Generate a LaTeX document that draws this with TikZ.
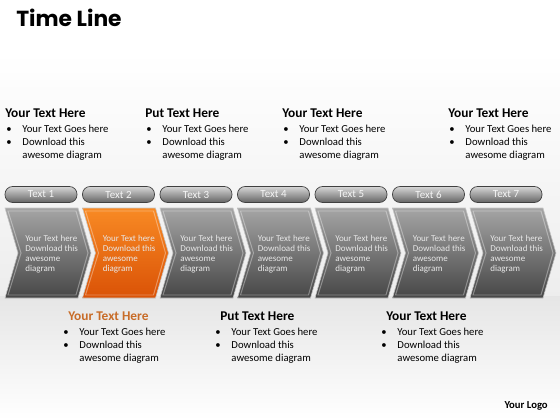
\documentclass[tikz,border=0pt]{standalone}
\usepackage{fontspec}
\setmainfont{Carlito}
\newfontfamily\titlefont{Poppins}
\usetikzlibrary{positioning}

\definecolor{chevtop}{RGB}{165,165,165}
\definecolor{chevbot}{RGB}{70,70,70}
\definecolor{orgtop}{RGB}{248,138,36}
\definecolor{orgbot}{RGB}{218,82,6}
\definecolor{orghead}{RGB}{200,108,40}
\definecolor{tabtop}{RGB}{215,215,215}
\definecolor{tabbot}{RGB}{100,100,100}

\tikzset{
  head/.style={anchor=west, inner sep=0pt, font=\bfseries\fontsize{9.5}{11}\selectfont},
  blist/.style={anchor=north west, inner sep=0pt, font=\fontsize{7.6}{9.25}\selectfont},
  chevtext/.style={anchor=north west, inner sep=0pt, align=left, text=white!82!gray, font=\fontsize{6.4}{7.3}\selectfont},
  tab/.style={draw=gray!50!black, line width=0.5pt, rounded corners=0.19cm, top color=tabtop, bottom color=tabbot,
    minimum width=1.8cm, minimum height=0.4cm, inner sep=0pt, text=white!92!gray, font=\fontsize{7.8}{9}\selectfont},
}

\begin{document}
\begin{tikzpicture}[x=0.025cm, y=-0.025cm]
	\useasboundingbox (0,0) rectangle (560,420);
	% background
	\fill[white] (0,0) rectangle (560,420);
	\shade[top color=white, bottom color=gray!14] (0,52) rectangle (560,296);
	\shade[top color=gray!20, bottom color=white] (0,296) rectangle (560,420);

	\node[anchor=west, inner sep=0pt, font=\titlefont\bfseries\fontsize{15.5}{18}\selectfont] (title) at (16,18) {Time Line};

	% chevrons
	\foreach \i/\ct/\cb in {1/chevtop/chevbot, 2/orgtop/orgbot, 3/chevtop/chevbot, 4/chevtop/chevbot, 5/chevtop/chevbot, 6/chevtop/chevbot, 7/chevtop/chevbot} {
		\pgfmathsetmacro\L{5+77.5*(\i-1)}
		\shade[top color=\ct, bottom color=\cb, draw=gray!45, line width=0.4pt]
			(\L,208) -- (\L+73,208) -- (\L+86,253) -- (\L+73,298) -- (\L,298) -- (\L+13,253) -- cycle;
		\draw[white, opacity=0.35, line width=0.7pt]
			(\L+3,211) -- (\L+71,211) -- (\L+83,253) -- (\L+71,295) -- (\L+3,295) -- (\L+16,253) -- cycle;
		\node[tab] (tab\i) at (\L+36,194.5) {Text \i};
		\node[chevtext] (ct\i) at (\L+20,234.5) {Your Text here\\Download this\\awesome\\diagram};
	}

	% text blocks above
	\foreach \n/\x/\h in {1/5/Your Text Here, 2/145/Put Text Here, 3/282/Your Text Here, 4/448/Your Text Here} {
		\node[head] (top\n) at (\x,113) {\h};
		\node[blist] (topl\n) at (\x+1,123.5) {\begin{tabular}{@{}p{11.5pt}@{}l@{}}
			\textbullet & Your Text Goes here\\
			\textbullet & Download this\\
			 & awesome diagram
		\end{tabular}};
	}

	% text blocks below
	\foreach \n/\x/\h/\c in {1/68/Your Text Here/orghead, 2/220/Put Text Here/black, 3/386/Your Text Here/black} {
		\node[head, text=\c] (bot\n) at (\x,316) {\h};
		\node[blist] (botl\n) at (\x-5,326.5) {\begin{tabular}{@{}p{11.5pt}@{}l@{}}
			\textbullet & Your Text Goes here\\
			\textbullet & Download this\\
			 & awesome diagram
		\end{tabular}};
	}

	\node[anchor=east, inner sep=0pt, font=\bfseries\fontsize{7.6}{9}\selectfont] (logo) at (548,406) {Your Logo};
\end{tikzpicture}
\end{document}
